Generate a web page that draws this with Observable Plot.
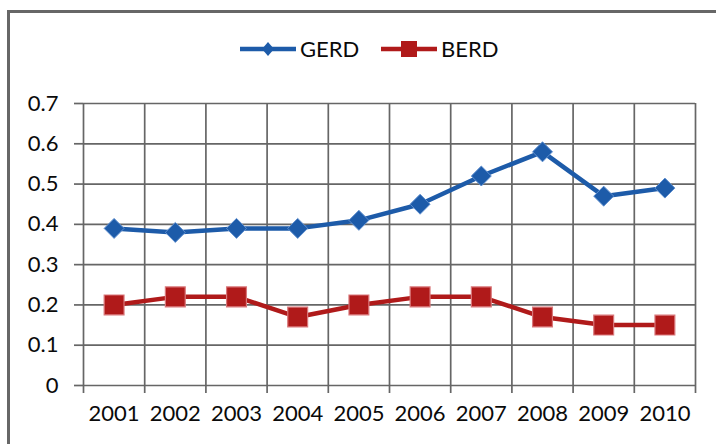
<!DOCTYPE html>
<html>
<head>
<meta charset="utf-8">
<script src="https://cdn.jsdelivr.net/npm/d3@7"></script>
<script src="https://cdn.jsdelivr.net/npm/@observablehq/plot@0.6"></script>
<style>
  html, body { margin: 0; padding: 0; background: #fff; }
  #wrap { position: relative; width: 716px; height: 444px; overflow: hidden; font-family: Lato, "Open Sans", sans-serif; }
  #border { position: absolute; left: 7px; top: 10px; width: 760px; height: 500px; border-left: 3px solid #676767; border-top: 3px solid #676767; box-sizing: border-box; }
  #legend { position: absolute; left: 0; top: 36px; width: 716px; height: 26px; }
  #chart { position: absolute; left: 0; top: 0; }
</style>
</head>
<body>
<div id="wrap">
  <div id="chart"></div>
  <div id="border"></div>
  <svg id="legend" width="716" height="26"></svg>
</div>
<script>
const years = [2001, 2002, 2003, 2004, 2005, 2006, 2007, 2008, 2009, 2010];
const gerd = [0.39, 0.38, 0.39, 0.39, 0.41, 0.45, 0.52, 0.58, 0.47, 0.49];
const berd = [0.20, 0.22, 0.22, 0.17, 0.20, 0.22, 0.22, 0.17, 0.15, 0.15];
const yTicks = [0, 0.1, 0.2, 0.3, 0.4, 0.5, 0.6, 0.7];
const seriesNames = ["GERD", "BERD"];
const seriesColors = ["#1d5ba9", "#b01a1a"];

const gerdRows = years.map((y, i) => ({year: y, value: gerd[i]}));
const berdRows = years.map((y, i) => ({year: y, value: berd[i]}));
const bounds = years.map(y => y - 0.5).concat([years[years.length - 1] + 0.5]);

const gridStyle = {stroke: "#666666", strokeOpacity: 1, strokeWidth: 1.7};

const chart = Plot.plot({
  width: 716,
  height: 444,
  marginLeft: 83,
  marginRight: 21,
  marginTop: 103,
  marginBottom: 59,
  style: {fontFamily: "Lato, 'Open Sans', sans-serif", fontSize: "22px", color: "#0a0a0a", background: "transparent"},
  x: {type: "linear", domain: [bounds[0], bounds[bounds.length - 1]]},
  y: {domain: [0, 0.7]},
  marks: [
    Plot.gridY(yTicks, gridStyle),
    Plot.gridX(bounds, gridStyle),
    Plot.axisY(yTicks, {tickSize: 9, tickPadding: 16, tickFormat: d => String(d), ...gridStyle, fill: "#0a0a0a", label: null}),
    Plot.axisX(bounds, {tickSize: 8, tickFormat: () => "", ...gridStyle, label: null}),
    Plot.axisX(years, {tickSize: 0, tickPadding: 20, tickFormat: d => String(d), fill: "#0a0a0a", label: null}),
    Plot.line(gerdRows, {x: "year", y: "value", stroke: seriesColors[0], strokeWidth: 4.5}),
    Plot.dot(gerdRows, {x: "year", y: "value", symbol: "diamond2", r: 9, fill: seriesColors[0], stroke: "#5f8fcf", strokeWidth: 1}),
    Plot.line(berdRows, {x: "year", y: "value", stroke: seriesColors[1], strokeWidth: 4.5}),
    Plot.dot(berdRows, {x: "year", y: "value", symbol: "square", r: 11.2, fill: seriesColors[1], stroke: "#d9777a", strokeWidth: 1.2})
  ]
});
document.getElementById("chart").appendChild(chart);

// Legend
const leg = d3.select("#legend");
const items = [
  {name: seriesNames[0], color: seriesColors[0], x0: 240, sym: "diamond"},
  {name: seriesNames[1], color: seriesColors[1], x0: 381, sym: "square"}
];
items.forEach(it => {
  const cy = 13;
  leg.append("line").attr("x1", it.x0).attr("x2", it.x0 + 56).attr("y1", cy).attr("y2", cy)
    .attr("stroke", it.color).attr("stroke-width", 4.5);
  const mx = it.x0 + 28;
  if (it.sym === "diamond") {
    leg.append("path").attr("d", `M${mx},${cy - 7}L${mx + 6},${cy}L${mx},${cy + 7}L${mx - 6},${cy}Z`).attr("fill", it.color);
  } else {
    leg.append("rect").attr("x", mx - 8).attr("y", cy - 8).attr("width", 16).attr("height", 16).attr("fill", it.color);
  }
  leg.append("text").attr("x", it.x0 + 60).attr("y", cy).attr("dy", "0.36em")
    .attr("font-family", "Lato, 'Open Sans', sans-serif").attr("font-size", 22).attr("fill", "#0a0a0a")
    .text(it.name);
});
</script>
</body>
</html>
